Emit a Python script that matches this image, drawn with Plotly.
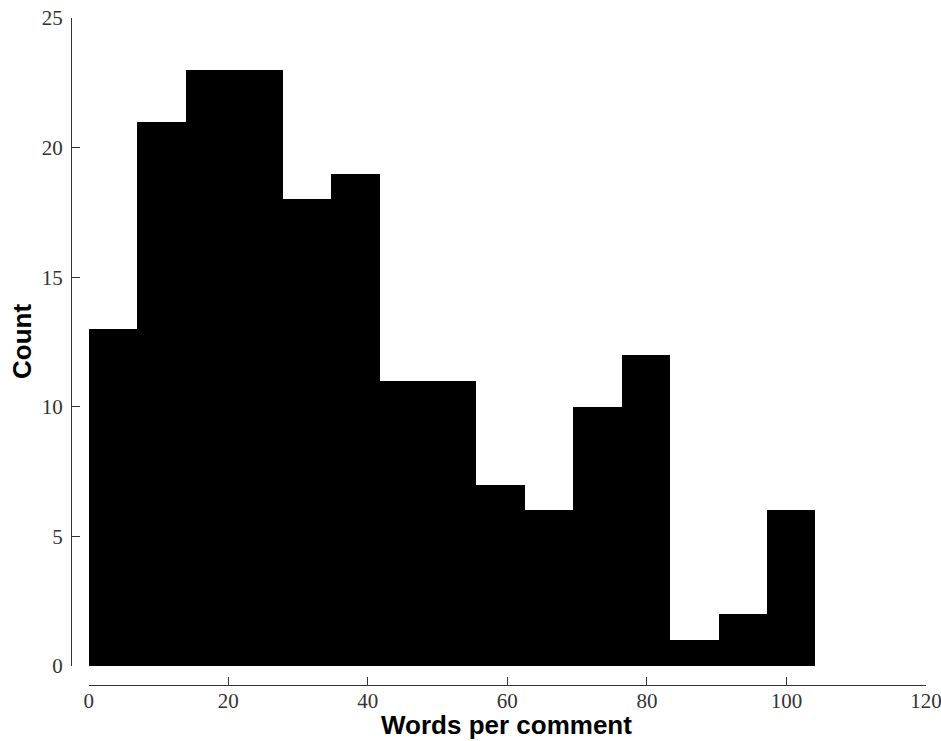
import plotly.graph_objects as go

# Histogram data
counts = [13, 21, 23, 23, 18, 19, 11, 11, 7, 6, 10, 12, 1, 2, 6]
bin_min = 0.0
bin_max = 104.1
x_ticks = [0, 20, 40, 60, 80, 100, 120]
y_ticks = [0, 5, 10, 15, 20, 25]
x_title = "Words per comment"
y_title = "Count"

n = len(counts)
w = (bin_max - bin_min) / n
centers = [bin_min + w * (i + 0.5) for i in range(n)]

W, H = 941, 741

fig = go.Figure(go.Bar(
    x=centers, y=counts, width=[w] * n,
    marker=dict(color="black", line=dict(width=0)),
    hoverinfo="skip",
))

axis_common = dict(
    showgrid=False, zeroline=False, showline=True, linecolor="#333333", linewidth=1.3,
    ticks="inside", ticklen=8, tickcolor="#333333", tickwidth=1.3,
    tickfont=dict(family="Liberation Serif", size=21, color="#333333"),
    automargin=False, ticklabeloverflow="allow",
)

fig.update_layout(
    width=W, height=H,
    margin=dict(l=0, r=0, t=0, b=0),
    paper_bgcolor="white", plot_bgcolor="white",
    bargap=0, showlegend=False,
    xaxis=dict(
        domain=[88.7 / W, 926 / W], range=[0, 120], tickvals=x_ticks,
        anchor="free", position=(H - 685) / H, ticklabelstandoff=-3,
        **axis_common,
    ),
    yaxis=dict(
        domain=[(H - 666) / H, (H - 18) / H], range=[0, 25], tickvals=y_ticks,
        anchor="free", position=71 / W, ticklabelstandoff=4,
        **axis_common,
    ),
    annotations=[
        dict(text="<b>%s</b>" % x_title, xref="paper", yref="paper",
             x=506.5 / W, y=0, xanchor="center", yanchor="bottom",
             showarrow=False, borderpad=0,
             font=dict(family="Liberation Sans", size=26, color="black")),
        dict(text="<b>%s</b>" % y_title, xref="paper", yref="paper",
             x=22 / W, y=(H - 342) / H, xanchor="center", yanchor="middle",
             textangle=-90, showarrow=False, borderpad=0,
             font=dict(family="Liberation Sans", size=26, color="black")),
    ],
)

fig.write_html("out.html")
